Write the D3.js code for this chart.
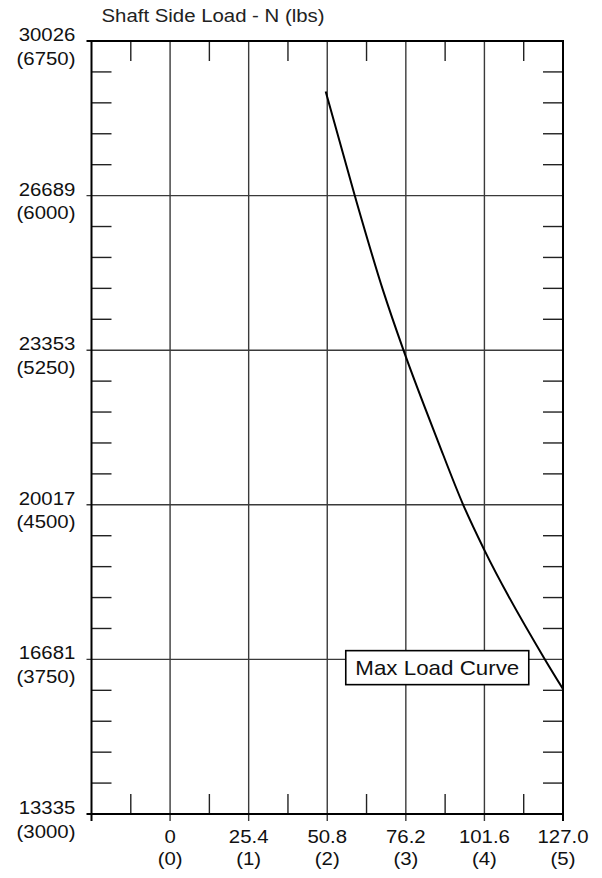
<!DOCTYPE html>
<html>
<head>
<meta charset="utf-8">
<script src="https://cdn.jsdelivr.net/npm/d3@7"></script>
<style>
  html, body { margin: 0; padding: 0; background: #fff; }
  svg { display: block; }
  text { font-family: "Liberation Sans", Arial, sans-serif; fill: #111; }
</style>
</head>
<body>
<script>
// Shaft offset (inches) with metric tick labels (mm)
const xTickInches = [0, 1, 2, 3, 4, 5];
const xTickMM = ["0", "25.4", "50.8", "76.2", "101.6", "127.0"];
const xTickIn = ["(0)", "(1)", "(2)", "(3)", "(4)", "(5)"];
const xMinor = [-0.5, 0.5, 1.5, 2.5, 3.5, 4.5];

// Side load (lbs) with metric tick labels (N)
const yTickLbs = [3000, 3750, 4500, 5250, 6000, 6750];
const yTickN = ["13335", "16681", "20017", "23353", "26689", "30026"];
const yTickLbsLabel = ["(3000)", "(3750)", "(4500)", "(5250)", "(6000)", "(6750)"];

// Max load curve: offset (in) and load (lbs)
const curveX = [1.98, 2.35, 2.71, 2.97, 3.41, 3.73, 4.0, 4.77, 5.0];
const curveY = [6505, 6000, 5540, 5250, 4807, 4500, 4280, 3750, 3606];

const W = 602, H = 878;
const plotL = 91.5, plotR = 563, plotT = 41, plotB = 814;
const SX = 1.09; // horizontal stretch of text

const svg = d3.select("body").append("svg").attr("width", W).attr("height", H);

const x = d3.scaleLinear().domain([-1, 5]).range([plotL, plotR]);
const y = d3.scaleLinear().domain([3000, 6750]).range([plotB, plotT]);

function label(g, tx, ty, str, size, anchor) {
  return g.append("text")
    .attr("transform", `translate(${tx},${ty}) scale(${SX},1)`)
    .attr("text-anchor", anchor || "middle")
    .style("font-size", size + "px")
    .text(str);
}

const grid = svg.append("g");
// vertical grid lines (with short tick below the axis)
grid.selectAll("line.v").data(xTickInches.slice(0, 5)).enter().append("line")
  .attr("x1", d => x(d)).attr("x2", d => x(d))
  .attr("y1", plotT).attr("y2", plotB + 7)
  .attr("stroke", "#3a3a3a").attr("stroke-width", 1.4);
// horizontal grid lines
grid.selectAll("line.h").data(yTickLbs.slice(1, 5)).enter().append("line")
  .attr("x1", plotL - 5).attr("x2", plotR)
  .attr("y1", d => y(d)).attr("y2", d => y(d))
  .attr("stroke", "#3a3a3a").attr("stroke-width", 1.4);

// minor ticks on the left and right edges
const yMinor = d3.range(3150, 6750, 150).filter(v => v % 750 !== 0);
const ticks = svg.append("g").attr("stroke", "#222").attr("stroke-width", 1.4);
ticks.selectAll("line.l").data(yMinor).enter().append("line")
  .attr("x1", plotL).attr("x2", plotL + 20)
  .attr("y1", d => y(d)).attr("y2", d => y(d));
ticks.selectAll("line.r").data(yMinor).enter().append("line")
  .attr("x1", plotR - 20).attr("x2", plotR)
  .attr("y1", d => y(d)).attr("y2", d => y(d));
// minor ticks on top and bottom edges
ticks.selectAll("line.t").data(xMinor).enter().append("line")
  .attr("x1", d => x(d)).attr("x2", d => x(d))
  .attr("y1", plotT).attr("y2", plotT + 20);
ticks.selectAll("line.b").data(xMinor).enter().append("line")
  .attr("x1", d => x(d)).attr("x2", d => x(d))
  .attr("y1", plotB - 20).attr("y2", plotB);

// frame
const frame = svg.append("g").attr("stroke", "#000").attr("stroke-width", 2);
frame.append("line").attr("x1", plotL - 5).attr("x2", plotR + 1).attr("y1", plotT).attr("y2", plotT);
frame.append("line").attr("x1", plotL - 5).attr("x2", plotR + 1).attr("y1", plotB).attr("y2", plotB);
frame.append("line").attr("x1", plotL).attr("x2", plotL).attr("y1", plotT - 1).attr("y2", plotB + 7);
frame.append("line").attr("x1", plotR).attr("x2", plotR).attr("y1", plotT - 1).attr("y2", plotB + 7);

// max load curve
const pts = curveX.map((v, i) => [v, curveY[i]]);
svg.append("path")
  .datum(pts)
  .attr("fill", "none")
  .attr("stroke", "#000")
  .attr("stroke-width", 2)
  .attr("d", d3.line().x(d => x(d[0])).y(d => y(d[1])).curve(d3.curveMonotoneX));

// curve label box
const boxCx = x(3.4), boxCy = y(3710), boxW = 183, boxH = 34;
const lab = svg.append("g");
lab.append("rect")
  .attr("x", boxCx - boxW / 2).attr("y", boxCy - boxH / 2)
  .attr("width", boxW).attr("height", boxH)
  .attr("fill", "#fff").attr("stroke", "#000").attr("stroke-width", 1.6);
label(lab, boxCx, boxCy + 7.5, "Max Load Curve", 20.5);

// y-axis labels
const yl = svg.append("g");
yTickLbs.forEach((v, i) => {
  label(yl, 47, y(v), yTickN[i], 18.7);
  label(yl, 46, y(v) + 23.5, yTickLbsLabel[i], 18.7);
});

// x-axis labels
const xl = svg.append("g");
xTickInches.forEach((v, i) => {
  label(xl, x(v), 843, xTickMM[i], 18.7);
  label(xl, x(v), 865, xTickIn[i], 18.7);
});

// axis title
label(svg, 101.5, 21.5, "Shaft Side Load - N (lbs)", 18.7, "start").style("fill", "#222");
</script>
</body>
</html>
